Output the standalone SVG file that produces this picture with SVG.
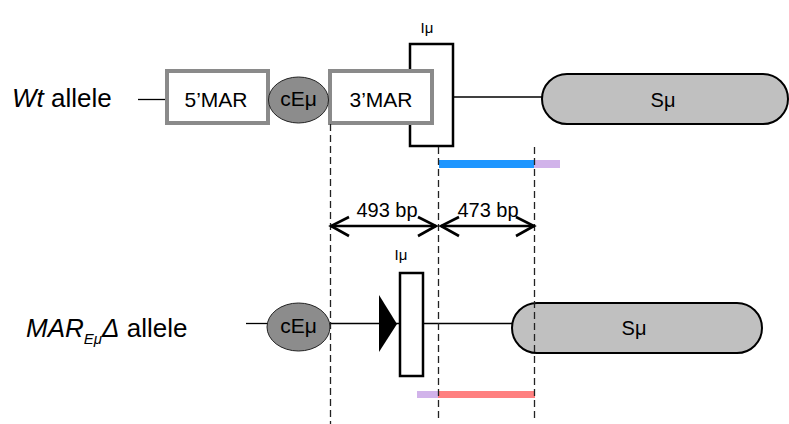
<svg xmlns="http://www.w3.org/2000/svg" width="789" height="424" viewBox="0 0 789 424">
<style>
text{font-family:"Liberation Sans",Arial,sans-serif;fill:#000}
.lbl{font-size:26px}
.box{fill:#fff;stroke:#8a8a8a;stroke-width:4}
.ell{fill:#8c8c8c;stroke:#222;stroke-width:1}
.imu{fill:#fff;stroke:#000;stroke-width:2.5}
.smu{fill:#c0c0c0;stroke:#000;stroke-width:2}
.ln{stroke:#000;stroke-width:1.3;fill:none}
.dash{stroke:#222;stroke-width:1.3;stroke-dasharray:7 4;fill:none}
.arr{stroke:#000;stroke-width:2.6;fill:none}
.t20{font-size:20px}
.t21{font-size:21px}
.t14{font-size:15px}
</style>
<rect width="789" height="424" fill="#fff"/>
<g id="labels">
<text class="lbl" x="12" y="107"><tspan font-style="italic">Wt</tspan> allele</text>
<text class="lbl" x="26" y="337"><tspan font-style="italic">MAR</tspan><tspan font-style="italic" font-size="15" dy="7">Eμ</tspan><tspan font-style="italic" dy="-7">Δ</tspan> allele</text>
</g>
<g id="connectors">
<line class="ln" x1="138" y1="99.5" x2="167" y2="99.5"/>
<line class="ln" x1="453" y1="97" x2="542" y2="97"/>
<line class="ln" x1="246" y1="323.5" x2="268" y2="323.5"/>
<line class="ln" x1="330" y1="323.5" x2="400" y2="323.5"/>
<line class="ln" x1="423" y1="323.5" x2="513" y2="323.5"/>
</g>
<g id="wt-imu">
<rect class="imu" x="410" y="44" width="43" height="102"/>
<text class="t14" x="427" y="33" text-anchor="middle">Iμ</text>
</g>
<g id="wt-5mar">
<rect class="box" x="167" y="71" width="101" height="52"/>
<text class="t21" x="216" y="107" text-anchor="middle">5’MAR</text>
</g>
<g id="wt-3mar">
<rect class="box" x="330" y="71" width="102" height="52"/>
<text class="t21" x="381" y="107" text-anchor="middle">3’MAR</text>
</g>
<g id="wt-cemu">
<ellipse class="ell" cx="298.5" cy="100" rx="30" ry="23"/>
<text class="t21" x="298.5" y="106" text-anchor="middle">cEμ</text>
</g>
<g id="wt-smu">
<rect class="smu" x="542" y="74" width="246" height="50" rx="25" ry="25"/>
<text class="t20" x="663" y="107" text-anchor="middle">Sμ</text>
</g>
<g id="wt-bars">
<rect x="439" y="160" width="95" height="8" fill="#1e96ff"/>
<rect x="534" y="160" width="26" height="8" fill="#d1b3ea"/>
</g>
<g id="mut-cemu">
<ellipse class="ell" cx="298.5" cy="327" rx="31.5" ry="24"/>
<text class="t21" x="298.5" y="333" text-anchor="middle">cEμ</text>
</g>
<g id="mut-lox">
<polygon points="379,295 397,324 379,352" fill="#000"/>
</g>
<g id="mut-imu">
<rect class="imu" x="400" y="273" width="23" height="103"/>
<text class="t14" x="401" y="260" text-anchor="middle">Iμ</text>
</g>
<g id="mut-smu">
<rect class="smu" x="512" y="303" width="250" height="50" rx="25" ry="25"/>
<text class="t20" x="634" y="335" text-anchor="middle">Sμ</text>
</g>
<g id="mut-bars">
<rect x="417" y="391" width="21" height="7" fill="#d1b3ea"/>
<rect x="438" y="391" width="97" height="7" fill="#ff8080"/>
</g>
<g id="guides">
<line class="dash" x1="330.5" y1="124" x2="330.5" y2="424"/>
<line class="dash" x1="438.5" y1="147" x2="438.5" y2="421"/>
<line class="dash" x1="534.5" y1="147" x2="534.5" y2="421"/>
</g>
<g id="dimensions">
<line class="arr" x1="331" y1="226" x2="436" y2="226"/>
<polyline class="arr" points="349,217 331,226 349,236"/>
<polyline class="arr" points="418,217 436,226 418,236"/>
<line class="arr" x1="441" y1="226" x2="534" y2="226"/>
<polyline class="arr" points="459,217 441,226 459,236"/>
<polyline class="arr" points="516,217 534,226 516,236"/>
<text class="t20" x="387" y="217" text-anchor="middle">493 bp</text>
<text class="t20" x="488" y="217" text-anchor="middle">473 bp</text>
</g>
</svg>
